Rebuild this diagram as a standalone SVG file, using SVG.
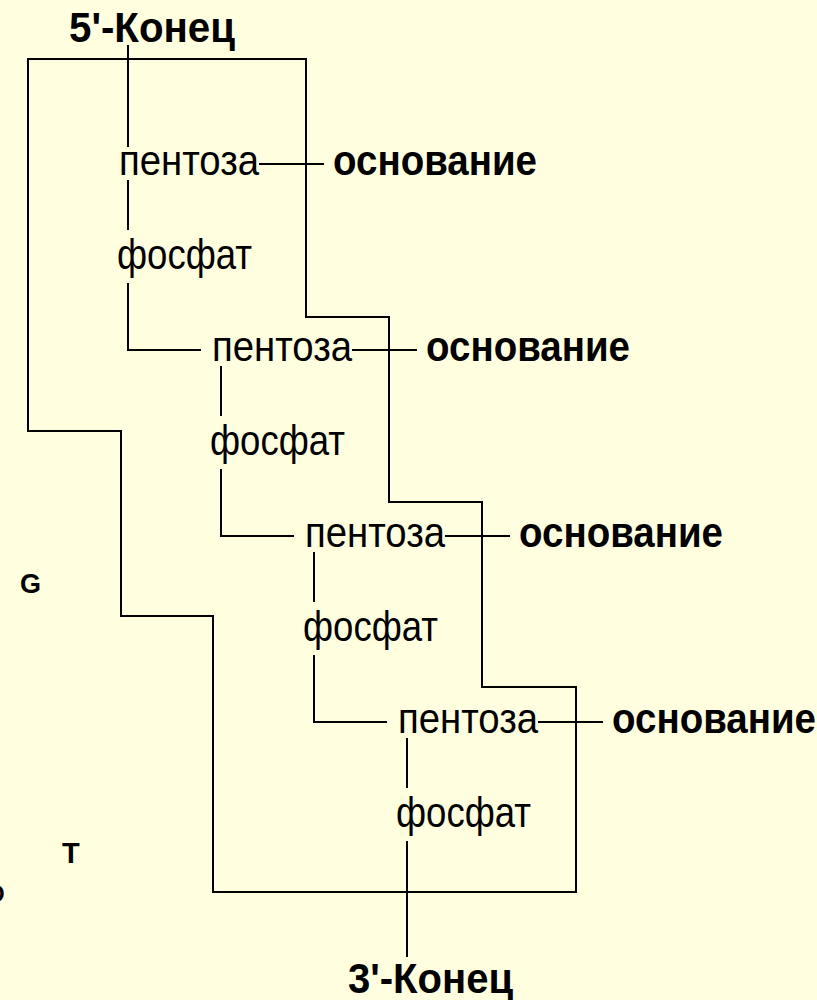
<svg xmlns="http://www.w3.org/2000/svg" width="817" height="1000" viewBox="0 0 817 1000">
<style>
.ln{stroke:#000;stroke-width:2;fill:none}
.p{font-family:"Liberation Sans",Arial,sans-serif;font-size:42px;fill:#000}
.b{font-family:"Liberation Sans",Arial,sans-serif;font-size:42px;font-weight:bold;fill:#000}
.t{font-family:"Liberation Sans",Arial,sans-serif;font-size:42px;font-weight:bold;fill:#000}
.s{font-family:"Liberation Sans",Arial,sans-serif;font-weight:bold;fill:#000}
</style>
<rect width="817" height="1000" fill="#FFFFE0"/>
<g id="connectors">
<polygon class="ln" points="28,59 306,59 306,317 389,317 389,502 482,502 482,687 576,687 576,892 213,892 213,616 121,616 121,431 28,431"/>
<path class="ln" d="M128,45V147M128,180V230M128,283V350H201M259,164H324"/>
<path class="ln" d="M221,366V416M221,469V536H294M352,350H417"/>
<path class="ln" d="M314,552V602M314,655V722H387M445,536H510"/>
<path class="ln" d="M407,738V788M407,841V957M538,722H603"/>
</g>
<g id="end5"><text class="t" x="69" y="42" textLength="166" lengthAdjust="spacingAndGlyphs">5'-Конец</text></g>
<g id="end3"><text class="t" x="348" y="993" textLength="165" lengthAdjust="spacingAndGlyphs">3'-Конец</text></g>
<g id="unit1">
<text class="p" x="119" y="175" textLength="140" lengthAdjust="spacingAndGlyphs">пентоза</text>
<text class="p" x="117" y="269" textLength="135" lengthAdjust="spacingAndGlyphs">фосфат</text>
<text class="b" x="333" y="175" textLength="204" lengthAdjust="spacingAndGlyphs">основание</text>
</g>
<g id="unit2">
<text class="p" x="212" y="361" textLength="140" lengthAdjust="spacingAndGlyphs">пентоза</text>
<text class="p" x="210" y="455" textLength="135" lengthAdjust="spacingAndGlyphs">фосфат</text>
<text class="b" x="426" y="361" textLength="204" lengthAdjust="spacingAndGlyphs">основание</text>
</g>
<g id="unit3">
<text class="p" x="305" y="547" textLength="140" lengthAdjust="spacingAndGlyphs">пентоза</text>
<text class="p" x="303" y="641" textLength="135" lengthAdjust="spacingAndGlyphs">фосфат</text>
<text class="b" x="519" y="547" textLength="204" lengthAdjust="spacingAndGlyphs">основание</text>
</g>
<g id="unit4">
<text class="p" x="398" y="733" textLength="140" lengthAdjust="spacingAndGlyphs">пентоза</text>
<text class="p" x="396" y="827" textLength="135" lengthAdjust="spacingAndGlyphs">фосфат</text>
<text class="b" x="612" y="733" textLength="204" lengthAdjust="spacingAndGlyphs">основание</text>
</g>
<g id="letters">
<text class="s" x="20" y="593" font-size="27">G</text>
<text class="s" x="62" y="863" font-size="29">T</text>
<text class="s" x="-14" y="902" font-size="24">O</text>
</g>
</svg>
